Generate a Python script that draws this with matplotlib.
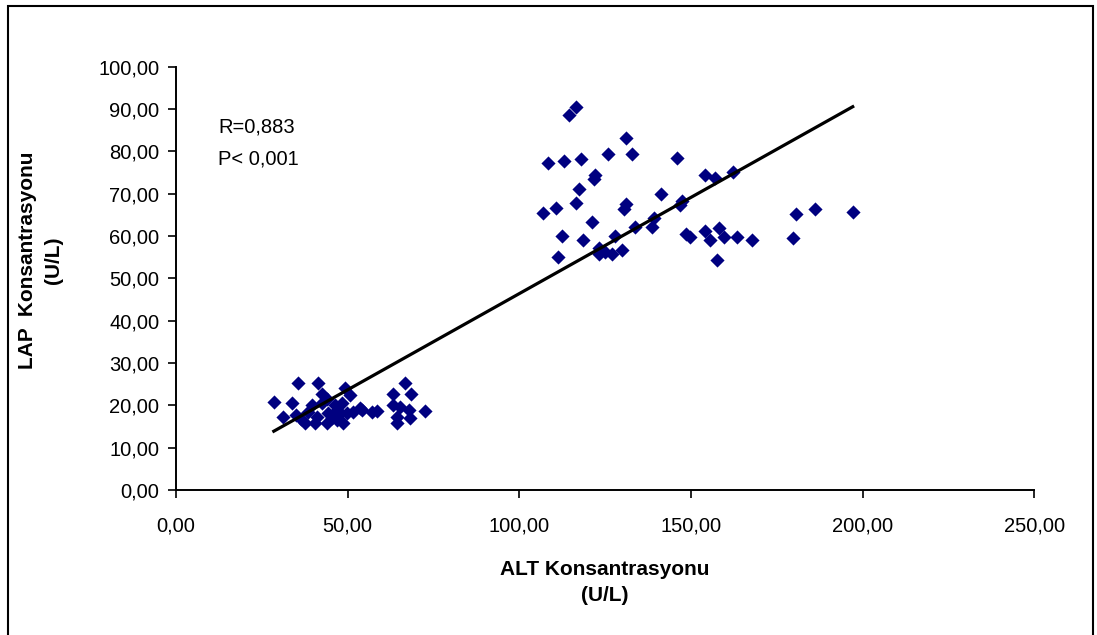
import numpy as np
import matplotlib
matplotlib.use("Agg")
import matplotlib.pyplot as plt
from matplotlib.patches import Rectangle
from matplotlib.ticker import FuncFormatter

plt.rcParams['font.family'] = ['Liberation Sans', 'DejaVu Sans']

# ALT (x) and LAP (y) values
alt_high = [116.6, 114.4, 131.2, 125.8, 132.7, 108.4, 112.9, 118.0, 145.9, 122.1,
            121.7, 154.0, 156.9, 162.2, 117.5, 141.3, 116.6, 147.4, 146.9, 106.9,
            110.7, 131.2, 130.6, 121.1, 139.3, 138.7, 133.7, 112.4, 118.5, 128.0,
            148.6, 149.6, 154.0, 155.5, 158.3, 159.6, 163.4, 167.8, 179.8, 180.7,
            186.1, 197.1, 157.7, 123.1, 123.3, 124.9, 127.0, 129.9, 111.2]
lap_high = [90.4, 88.5, 83.2, 79.4, 79.4, 77.2, 77.7, 78.1, 78.5, 74.4,
            73.4, 74.3, 73.8, 75.1, 71.2, 69.9, 67.7, 68.3, 67.3, 65.5,
            66.5, 67.5, 66.4, 63.4, 64.3, 62.2, 62.2, 60.0, 59.0, 60.1,
            60.5, 59.8, 61.3, 59.0, 62.0, 59.8, 59.8, 59.1, 59.5, 65.1,
            66.4, 65.6, 54.3, 57.1, 55.7, 56.2, 55.7, 56.8, 55.1]

alt_low = [28.5, 31.3, 33.7, 35.1, 35.6, 37.6, 39.5, 41.5, 42.4, 49.2,
           50.7, 42.4, 46.3, 48.3, 53.6, 41.0, 44.4, 47.8, 49.7, 51.6,
           40.5, 43.9, 46.8, 48.7, 54.1, 57.0, 58.6, 63.3, 66.7, 68.5,
           63.3, 65.2, 68.0, 72.5, 64.3, 68.2, 64.3, 38.5, 45.5, 44.0,
           47.0, 36.5]
lap_low = [20.9, 17.3, 20.5, 17.7, 25.2, 15.8, 20.1, 25.2, 22.8, 24.0,
           22.4, 20.5, 20.1, 20.5, 19.3, 17.3, 18.1, 18.1, 18.1, 18.5,
           15.8, 15.8, 16.5, 15.8, 18.9, 18.5, 18.7, 22.8, 25.3, 22.7,
           20.1, 19.7, 18.9, 18.7, 17.3, 16.9, 15.8, 18.5, 17.0, 21.5,
           19.0, 16.8]

# regression line
slope = 0.4546
intercept = 0.94

x_ticks = [0, 50, 100, 150, 200, 250]
y_ticks = [0, 10, 20, 30, 40, 50, 60, 70, 80, 90, 100]

alt = np.array(alt_low + alt_high)
lap = np.array(lap_low + lap_high)

fig = plt.figure(figsize=(10.97, 6.35), dpi=100)
ax = fig.add_axes([0.1604, 0.2283, 0.7825, 0.6667])

ax.scatter(alt, lap, marker='D', s=52, color='#000080', linewidths=0, zorder=2)
xl = np.array([alt.min(), alt.max()])
ax.plot(xl, intercept + slope * xl, color='black', lw=2.3, zorder=3)

ax.set_xlim(0, 250)
ax.set_ylim(0, 100)
ax.set_xticks(x_ticks)
ax.set_yticks(y_ticks)
fmt = FuncFormatter(lambda v, p: f"{v:.2f}".replace('.', ','))
ax.xaxis.set_major_formatter(fmt)
ax.yaxis.set_major_formatter(fmt)
ax.tick_params(direction='out', length=6, width=1.2, labelsize=14.5, pad=6)
ax.tick_params(axis='x', pad=13)
for s in ['top', 'right']:
    ax.spines[s].set_visible(False)
for s in ['left', 'bottom']:
    ax.spines[s].set_linewidth(1.4)

ax.text(0.5, -0.2185, "ALT Konsantrasyonu\n(U/L)", transform=ax.transAxes,
        fontsize=15, fontweight='bold', ha='center', va='center', linespacing=1.45)
ax.text(-0.1575, 0.543, "LAP  Konsantrasyonu\n(U/L)", transform=ax.transAxes,
        fontsize=15, fontweight='bold', ha='center', va='center', rotation=90,
        linespacing=1.45)

ax.text(0.049, 0.857, "R=0,883", transform=ax.transAxes, fontsize=14.5, va='center')
ax.text(0.049, 0.782, "P< 0,001", transform=ax.transAxes, fontsize=14.5, va='center')

fig.patches.append(Rectangle((8 / 1097, -0.05), (1092.5 - 8) / 1097, 1.05 - 6.5 / 635,
                             transform=fig.transFigure, fill=False,
                             edgecolor='black', lw=1.5))

fig.savefig("out.png", dpi=100)
